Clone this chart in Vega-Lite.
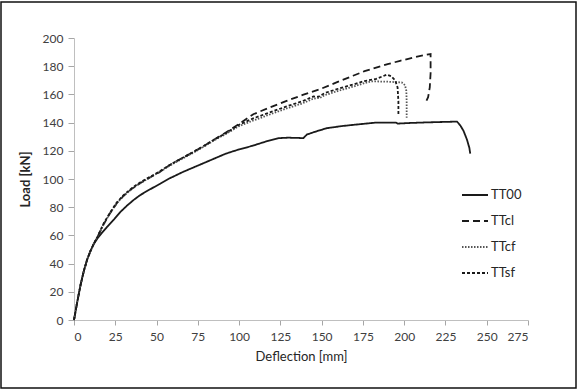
{
  "$schema": "https://vega.github.io/schema/vega-lite/v6.json",
  "autosize": {"type": "none"},
  "width": 575,
  "height": 386,
  "padding": {"left": 1, "top": 2, "right": 4, "bottom": 2},
  "background": "white",
  "config": {
    "font": "Lato",
    "view": {"stroke": "#111111", "strokeWidth": 1.5},
    "axis": {
      "grid": false,
      "domainColor": "#bfbfbf",
      "tickColor": "#a6a6a6",
      "labelColor": "#404040",
      "labelFont": "Lato",
      "labelFontSize": 12,
      "titleFont": "Lato",
      "titleColor": "#262626",
      "tickSize": 6
    },
    "legend": {
      "orient": "none",
      "legendX": 460,
      "legendY": 179,
      "padding": 0,
      "symbolType": "stroke",
      "symbolSize": 676,
      "symbolStrokeWidth": 1.8,
      "rowPadding": 5,
      "labelOffset": 2,
      "labelFontSize": 13,
      "labelColor": "#262626",
      "labelFont": "Lato"
    }
  },
  "data": {
    "values": [
      {"s": "TT00", "x": 0, "y": 0},
      {"s": "TT00", "x": 2, "y": 13},
      {"s": "TT00", "x": 4, "y": 25},
      {"s": "TT00", "x": 6, "y": 35},
      {"s": "TT00", "x": 8, "y": 43},
      {"s": "TT00", "x": 10, "y": 49},
      {"s": "TT00", "x": 12, "y": 54},
      {"s": "TT00", "x": 14, "y": 57.5},
      {"s": "TT00", "x": 17, "y": 62},
      {"s": "TT00", "x": 20, "y": 66},
      {"s": "TT00", "x": 24, "y": 71},
      {"s": "TT00", "x": 28, "y": 76.5},
      {"s": "TT00", "x": 32, "y": 81},
      {"s": "TT00", "x": 36, "y": 85},
      {"s": "TT00", "x": 40, "y": 88.5},
      {"s": "TT00", "x": 45, "y": 92},
      {"s": "TT00", "x": 52, "y": 96.5},
      {"s": "TT00", "x": 58, "y": 100.5},
      {"s": "TT00", "x": 66, "y": 105},
      {"s": "TT00", "x": 74, "y": 109},
      {"s": "TT00", "x": 83, "y": 113.5},
      {"s": "TT00", "x": 92, "y": 118},
      {"s": "TT00", "x": 100, "y": 121},
      {"s": "TT00", "x": 108, "y": 123.5},
      {"s": "TT00", "x": 116, "y": 126.5},
      {"s": "TT00", "x": 124, "y": 129},
      {"s": "TT00", "x": 130, "y": 129.3},
      {"s": "TT00", "x": 139, "y": 129},
      {"s": "TT00", "x": 141, "y": 131.5},
      {"s": "TT00", "x": 146, "y": 133.5},
      {"s": "TT00", "x": 153, "y": 136},
      {"s": "TT00", "x": 162, "y": 137.5},
      {"s": "TT00", "x": 170, "y": 138.5},
      {"s": "TT00", "x": 183, "y": 140},
      {"s": "TT00", "x": 195, "y": 140},
      {"s": "TT00", "x": 196, "y": 139.3},
      {"s": "TT00", "x": 205, "y": 139.8},
      {"s": "TT00", "x": 215, "y": 140.2},
      {"s": "TT00", "x": 225, "y": 140.5},
      {"s": "TT00", "x": 232, "y": 140.7},
      {"s": "TT00", "x": 234, "y": 138},
      {"s": "TT00", "x": 236, "y": 134},
      {"s": "TT00", "x": 238, "y": 128},
      {"s": "TT00", "x": 239.5, "y": 122},
      {"s": "TT00", "x": 240, "y": 118},

      {"s": "TTcl", "x": 0, "y": 0},
      {"s": "TTcl", "x": 2, "y": 13},
      {"s": "TTcl", "x": 4, "y": 25},
      {"s": "TTcl", "x": 6, "y": 35},
      {"s": "TTcl", "x": 8, "y": 43},
      {"s": "TTcl", "x": 10, "y": 49},
      {"s": "TTcl", "x": 12, "y": 54},
      {"s": "TTcl", "x": 14, "y": 58.5},
      {"s": "TTcl", "x": 18, "y": 68},
      {"s": "TTcl", "x": 22, "y": 76},
      {"s": "TTcl", "x": 26, "y": 83},
      {"s": "TTcl", "x": 30, "y": 88},
      {"s": "TTcl", "x": 35, "y": 93},
      {"s": "TTcl", "x": 40, "y": 97},
      {"s": "TTcl", "x": 46, "y": 101},
      {"s": "TTcl", "x": 52, "y": 105},
      {"s": "TTcl", "x": 58, "y": 110},
      {"s": "TTcl", "x": 65, "y": 114.5},
      {"s": "TTcl", "x": 72, "y": 119},
      {"s": "TTcl", "x": 78, "y": 123},
      {"s": "TTcl", "x": 85, "y": 128},
      {"s": "TTcl", "x": 92, "y": 133},
      {"s": "TTcl", "x": 100, "y": 139},
      {"s": "TTcl", "x": 108.6, "y": 145.9},
      {"s": "TTcl", "x": 118, "y": 150.5},
      {"s": "TTcl", "x": 128.8, "y": 155.4},
      {"s": "TTcl", "x": 139, "y": 159.8},
      {"s": "TTcl", "x": 149, "y": 163.7},
      {"s": "TTcl", "x": 159, "y": 168.5},
      {"s": "TTcl", "x": 169, "y": 173.2},
      {"s": "TTcl", "x": 176, "y": 176.5},
      {"s": "TTcl", "x": 183, "y": 179},
      {"s": "TTcl", "x": 190, "y": 181.5},
      {"s": "TTcl", "x": 197.5, "y": 183.8},
      {"s": "TTcl", "x": 205, "y": 186},
      {"s": "TTcl", "x": 212, "y": 187.8},
      {"s": "TTcl", "x": 216, "y": 188.6},
      {"s": "TTcl", "x": 216, "y": 175},
      {"s": "TTcl", "x": 215.5, "y": 165},
      {"s": "TTcl", "x": 214.5, "y": 158},
      {"s": "TTcl", "x": 213.5, "y": 155.5},

      {"s": "TTcf", "x": 0, "y": 0},
      {"s": "TTcf", "x": 2, "y": 13},
      {"s": "TTcf", "x": 4, "y": 25},
      {"s": "TTcf", "x": 6, "y": 35},
      {"s": "TTcf", "x": 8, "y": 43},
      {"s": "TTcf", "x": 10, "y": 49},
      {"s": "TTcf", "x": 12, "y": 54},
      {"s": "TTcf", "x": 14, "y": 58.5},
      {"s": "TTcf", "x": 18, "y": 68},
      {"s": "TTcf", "x": 22, "y": 76},
      {"s": "TTcf", "x": 26, "y": 83},
      {"s": "TTcf", "x": 30, "y": 88},
      {"s": "TTcf", "x": 35, "y": 93},
      {"s": "TTcf", "x": 40, "y": 97},
      {"s": "TTcf", "x": 46, "y": 101},
      {"s": "TTcf", "x": 52, "y": 105},
      {"s": "TTcf", "x": 58, "y": 109.5},
      {"s": "TTcf", "x": 65, "y": 114},
      {"s": "TTcf", "x": 72, "y": 118.5},
      {"s": "TTcf", "x": 78, "y": 122.5},
      {"s": "TTcf", "x": 85, "y": 127.5},
      {"s": "TTcf", "x": 92, "y": 132},
      {"s": "TTcf", "x": 100, "y": 137.5},
      {"s": "TTcf", "x": 108.6, "y": 141.5},
      {"s": "TTcf", "x": 118, "y": 145.5},
      {"s": "TTcf", "x": 128.8, "y": 150},
      {"s": "TTcf", "x": 138, "y": 153.5},
      {"s": "TTcf", "x": 145, "y": 157},
      {"s": "TTcf", "x": 149, "y": 157.5},
      {"s": "TTcf", "x": 152, "y": 159.5},
      {"s": "TTcf", "x": 160, "y": 162.5},
      {"s": "TTcf", "x": 169, "y": 165.5},
      {"s": "TTcf", "x": 176, "y": 168},
      {"s": "TTcf", "x": 180, "y": 169.3},
      {"s": "TTcf", "x": 190, "y": 169},
      {"s": "TTcf", "x": 198.5, "y": 168.5},
      {"s": "TTcf", "x": 200.5, "y": 166.5},
      {"s": "TTcf", "x": 201.3, "y": 162.5},
      {"s": "TTcf", "x": 201.5, "y": 155},
      {"s": "TTcf", "x": 201.5, "y": 143.5},

      {"s": "TTsf", "x": 0, "y": 0},
      {"s": "TTsf", "x": 2, "y": 13},
      {"s": "TTsf", "x": 4, "y": 25},
      {"s": "TTsf", "x": 6, "y": 35},
      {"s": "TTsf", "x": 8, "y": 43},
      {"s": "TTsf", "x": 10, "y": 49},
      {"s": "TTsf", "x": 12, "y": 54},
      {"s": "TTsf", "x": 14, "y": 58.5},
      {"s": "TTsf", "x": 18, "y": 68.5},
      {"s": "TTsf", "x": 22, "y": 76.5},
      {"s": "TTsf", "x": 26, "y": 83.5},
      {"s": "TTsf", "x": 30, "y": 88.5},
      {"s": "TTsf", "x": 35, "y": 93.5},
      {"s": "TTsf", "x": 40, "y": 97.5},
      {"s": "TTsf", "x": 46, "y": 101.5},
      {"s": "TTsf", "x": 52, "y": 105.5},
      {"s": "TTsf", "x": 58, "y": 110},
      {"s": "TTsf", "x": 65, "y": 114.5},
      {"s": "TTsf", "x": 72, "y": 119},
      {"s": "TTsf", "x": 78, "y": 123},
      {"s": "TTsf", "x": 85, "y": 128},
      {"s": "TTsf", "x": 92, "y": 132.5},
      {"s": "TTsf", "x": 100, "y": 138.5},
      {"s": "TTsf", "x": 108.6, "y": 143},
      {"s": "TTsf", "x": 118, "y": 147},
      {"s": "TTsf", "x": 128.8, "y": 151.5},
      {"s": "TTsf", "x": 138, "y": 155},
      {"s": "TTsf", "x": 145, "y": 158.5},
      {"s": "TTsf", "x": 148, "y": 158.3},
      {"s": "TTsf", "x": 152, "y": 161},
      {"s": "TTsf", "x": 160, "y": 164},
      {"s": "TTsf", "x": 169, "y": 167},
      {"s": "TTsf", "x": 176, "y": 169.5},
      {"s": "TTsf", "x": 183, "y": 171},
      {"s": "TTsf", "x": 189.5, "y": 174},
      {"s": "TTsf", "x": 192, "y": 173},
      {"s": "TTsf", "x": 194.5, "y": 170},
      {"s": "TTsf", "x": 196, "y": 165},
      {"s": "TTsf", "x": 196.5, "y": 155},
      {"s": "TTsf", "x": 196.5, "y": 145.5}
    ]
  },
  "mark": {"type": "line", "strokeWidth": 1.8, "clip": false},
  "encoding": {
    "x": {
      "field": "x",
      "type": "quantitative",
      "scale": {"domain": [0, 275], "range": [73, 527], "nice": false},
      "axis": {
        "values": [0, 25, 50, 75, 100, 125, 150, 175, 200, 225, 250, 275],
        "offset": -68,
        "title": "Deflection [mm]",
        "titleFontSize": 13,
        "titleFontWeight": "normal",
        "titlePadding": 8,
        "labelPadding": 6,
        "tickSize": 5
      }
    },
    "y": {
      "field": "y",
      "type": "quantitative",
      "scale": {"domain": [0, 200], "range": [318, 36], "nice": false},
      "axis": {
        "values": [0, 20, 40, 60, 80, 100, 120, 140, 160, 180, 200],
        "offset": -73,
        "title": "Load [kN]",
        "titleFontSize": 13,
        "titleFontWeight": "bold",
        "titlePadding": 10,
        "labelPadding": 5
      }
    },
    "order": {"value": null},
    "color": {
      "field": "s",
      "type": "nominal",
      "sort": ["TT00", "TTcl", "TTcf", "TTsf"],
      "scale": {"domain": ["TT00", "TTcl", "TTcf", "TTsf"], "range": ["#1a1a1a", "#1a1a1a", "#555555", "#1a1a1a"]},
      "legend": {"title": null}
    },
    "strokeDash": {
      "field": "s",
      "type": "nominal",
      "sort": ["TT00", "TTcl", "TTcf", "TTsf"],
      "scale": {"domain": ["TT00", "TTcl", "TTcf", "TTsf"], "range": [[1, 0], [7, 4], [1.5, 1.5], [3, 2]]},
      "legend": {"title": null}
    }
  }
}
